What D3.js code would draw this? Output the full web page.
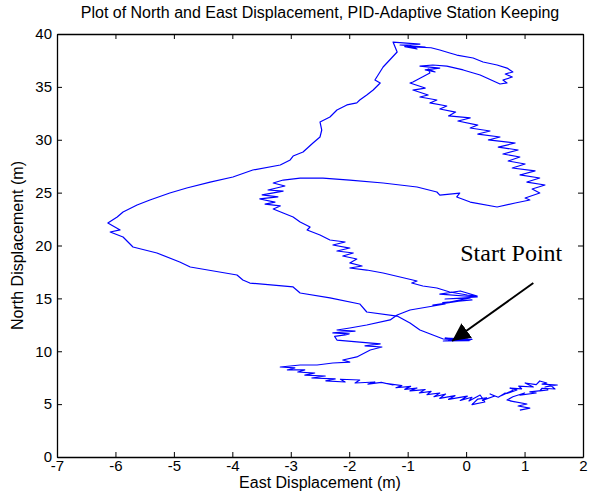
<!DOCTYPE html>
<html>
<head>
<meta charset="utf-8">
<script src="https://cdnjs.cloudflare.com/ajax/libs/d3/7.8.5/d3.min.js"></script>
<style>
  body { margin: 0; background: #fff; }
</style>
</head>
<body>
<div id="chart"></div>
<script>
// trajectory, [east (m), north (m)], in the order it was sailed
var startLeg = [
  [-0.19,11.16],[0.07,11.06],[-0.36,11.25],[0.03,11.16],[-0.39,10.97],[0.05,11.00],[-0.30,11.10],
  [0.10,11.12],[-0.10,11.06],[-0.39,11.16],
  [-0.79,12.01],[-0.96,12.67],[-1.18,13.33],[-1.70,13.71],[-1.82,14.47],[-2.33,15.04],[-2.84,15.51],
  [-2.96,16.08],[-3.70,16.45],[-3.82,16.74],[-3.92,17.21],[-4.72,17.97],[-4.90,18.44],[-5.29,19.29],
  [-5.70,19.86],[-5.87,20.80],[-6.09,21.28],[-5.92,21.47],[-6.13,22.13],[-5.97,22.70],[-5.87,23.17],
  [-5.63,23.83],[-5.41,24.30],[-5.07,24.96],[-4.78,25.44],[-4.38,26.00],[-3.99,26.48],[-3.65,27.14],
  [-3.18,27.61],[-3.01,28.09],[-2.96,28.46],[-2.79,28.84],[-2.62,29.69],[-2.50,30.26],[-2.47,30.92],
  [-2.50,31.68],[-2.33,32.15],[-2.21,32.81],[-2.04,33.29],[-1.87,33.48],[-1.82,33.76],[-1.70,34.23],
  [-1.59,34.70],[-1.47,35.37],[-1.56,35.65],[-1.42,36.88],[-1.18,38.30],[-1.25,39.24]
];

var topLobe = [
  [-0.79,39.05],[-1.13,38.96],[-0.70,38.77],[-0.96,38.87],[-0.84,38.58],[-1.05,38.80],[-0.60,38.70],
  [-0.45,38.49],[-0.28,38.20],[-0.16,38.01],[0.12,37.73],[0.29,37.35],[0.53,37.07],[0.70,36.78],
  [0.80,36.41],[0.67,36.22],[0.79,35.93],[0.63,35.65],[0.70,35.37],[0.58,35.27],[0.24,36.12],
  [-0.05,36.60],[-0.33,36.97],[-0.57,37.07],[-0.79,36.97],[-0.45,36.78],[-0.70,36.60],[-0.53,36.41],
  [-0.65,36.69],[-0.62,36.31],[-0.91,35.46],[-0.96,35.37]
];

var eastSide = [
  [-0.70,34.89],[-0.91,34.70],[-0.65,34.23],[-0.79,34.04],[-0.50,33.76],[-0.62,33.48],[-0.33,33.19],
  [-0.45,32.91],[-0.18,32.62],[-0.30,32.25],[0.07,32.06],[-0.14,31.77],[0.20,31.39],[0.07,31.11],
  [0.41,30.83],[0.20,30.54],[0.58,30.26],[0.38,29.98],[0.84,29.69],[0.55,29.31],[0.89,29.03],
  [0.63,28.65],[0.92,28.37],[0.72,27.99],[1.01,27.71],[0.79,27.33],[1.18,27.05],[0.92,26.67],
  [1.26,26.38],[1.04,26.00],[1.35,25.72],[1.13,25.34],[1.26,24.96],[1.01,24.49],[1.09,24.30],
  [0.84,24.02],[0.53,23.64]
];

var crossLeg = [
  [0.07,24.11],[-0.16,24.59],[-0.11,24.96],[-0.45,24.77],[-0.50,25.06],[-0.84,25.53],[-1.42,25.91],
  [-1.99,26.19],[-2.45,26.38],[-2.84,26.38],[-3.13,26.19],[-3.30,25.91]
];

var innerLeg = [
  [-3.10,25.63],[-3.39,25.25],[-3.13,25.15],[-3.49,24.78],[-3.22,24.59],[-3.53,24.40],[-3.27,24.11],
  [-3.44,23.92],[-3.18,23.74],[-3.30,23.45],[-3.13,23.07],[-2.96,22.70],[-2.84,22.22],[-2.67,21.75],
  [-2.72,21.47],[-2.50,20.99],[-2.33,20.52],[-2.07,20.33],[-2.28,20.05],[-1.99,19.76],[-2.21,19.48],
  [-1.93,19.29],[-2.11,19.01],[-1.87,18.72],[-1.99,18.35],[-1.78,18.06],[-1.99,17.87],[-1.70,17.68],
  [-1.42,17.40],[-1.13,17.02],[-0.84,16.64],[-0.93,16.45],[-0.74,16.17],[-0.50,15.98],[-0.28,15.60],
  [0.02,15.32],[0.19,15.22]
];

var returnLeg = [
  [-0.10,15.70],[-0.45,15.41],[0.19,15.13],[-0.36,14.94],[0.07,15.04],[-0.28,14.66],[0.10,14.85],
  [-0.40,14.60],[-0.10,14.75],[-0.57,14.37],[-0.36,14.47],[-0.96,13.90],[-1.18,13.43],[-1.30,12.96],
  [-1.70,12.48],[-1.99,12.20],[-2.21,12.01],[-1.90,11.91],[-2.28,11.73],[-2.00,11.65],[-2.07,11.54],
  [-2.25,11.40],[-2.21,11.06],[-1.82,10.87],[-1.47,10.69],[-1.73,10.50],[-1.44,10.40],[-1.64,10.12]
];

var southLeg = [
  [-1.87,9.46],[-2.11,9.17],[-1.99,8.98],[-2.28,8.89],[-2.55,8.70],[-2.84,8.70],[-3.18,8.51],
  [-2.93,8.42],[-3.06,8.23],[-2.76,8.23],[-2.88,8.04],[-2.59,7.94],[-2.76,7.75],[-2.41,7.66],
  [-2.64,7.47],[-2.24,7.38],[-2.40,7.20],[-2.07,7.09],[-2.15,7.35],[-1.82,7.28],[-1.90,7.00],
  [-1.56,7.09],[-1.68,6.90],[-1.45,7.05],[-1.25,6.81],[-1.35,6.95],[-1.10,6.75],[-1.20,6.55],
  [-0.95,6.68],[-1.05,6.40],[-0.84,6.52],[-0.96,6.25],[-0.70,6.38],[-0.80,6.05],[-0.60,6.20],
  [-0.67,5.90],[-0.45,6.05],[-0.55,5.70],[-0.35,5.95],[-0.45,5.55],[-0.19,5.80],[-0.30,5.45],
  [0.02,5.75],[-0.10,5.35],[0.10,5.65],[0.05,5.30],[0.24,5.86],[0.32,5.20],[0.10,4.95],
  [0.20,5.48],[0.35,5.60],[0.28,5.35],[0.49,5.77],[0.41,5.96],[0.55,5.65],[0.67,6.05],
  [0.60,5.80],[0.80,6.30],[0.70,6.00],[0.87,6.34],[0.75,6.52],[0.95,6.45],[0.90,6.70],
  [1.15,6.62],[1.01,7.00],[1.20,6.85],[1.26,7.19],[1.38,7.00],[1.30,6.90],[1.56,6.81],
  [1.35,6.62],[1.45,6.75],[1.52,6.43],[1.30,6.50],[1.26,6.24],[1.40,6.35],[1.09,6.15],
  [1.20,6.05],[0.92,5.86],[1.00,6.05],[0.80,5.70],[0.70,5.39],[0.84,5.20],[0.75,5.30],
  [1.04,5.01],[0.89,4.82],[1.09,4.63],[0.92,4.44]
];

var xTicks = [-7, -6, -5, -4, -3, -2, -1, 0, 1, 2];
var yTicks = [0, 5, 10, 15, 20, 25, 30, 35, 40];

var title = "Plot of North and East Displacement, PID-Adaptive Station Keeping";
var xTitle = "East Displacement (m)";
var yTitle = "North Displacement (m)";
var noteText = "Start Point";
var noteAt = [-0.1, 18.5];
var arrowFrom = [1.15, 16.45];
var arrowTo = [-0.24, 10.97];

var sans = "Arial, 'Liberation Sans', Helvetica, sans-serif";
var serif = "'Times New Roman', 'Liberation Serif', Times, serif";

var svgWidth = 590;
var svgHeight = 492;
var margin = { top: 34, right: 7, bottom: 35, left: 57 };
var width = svgWidth - margin.left - margin.right;
var height = svgHeight - margin.top - margin.bottom;

var track = startLeg.concat(topLobe, eastSide, crossLeg, innerLeg, returnLeg, southLeg);

var svg = d3.select("#chart")
  .append("svg")
  .attr("width", svgWidth)
  .attr("height", svgHeight);

svg.append("rect").attr("width", svgWidth).attr("height", svgHeight).attr("fill", "#fff");

var chartGroup = svg.append("g")
  .attr("transform", `translate(${margin.left}, ${margin.top})`);

var x = d3.scaleLinear().domain([-7, 2]).range([0, width]);
var y = d3.scaleLinear().domain([0, 40]).range([height, 0]);

// box with inward ticks on all four sides, like matlab
chartGroup.append("g")
  .attr("class", "xAxis")
  .attr("transform", "translate(0," + height + ")")
  .call(d3.axisBottom(x).tickValues(xTicks).tickSizeInner(-5).tickSizeOuter(0).tickPadding(3)
    .tickFormat(d => String(d)));

chartGroup.append("g")
  .call(d3.axisTop(x).tickValues(xTicks).tickSizeInner(-5).tickSizeOuter(0).tickFormat(""));

chartGroup.append("g")
  .attr("class", "yAxis")
  .call(d3.axisLeft(y).tickValues(yTicks).tickSizeInner(-5).tickSizeOuter(0).tickPadding(5)
    .tickFormat(d => String(d)));

chartGroup.append("g")
  .attr("transform", "translate(" + width + ",0)")
  .call(d3.axisRight(y).tickValues(yTicks).tickSizeInner(-5).tickSizeOuter(0).tickFormat(""));

chartGroup.selectAll(".domain").attr("stroke", "#000").attr("stroke-width", 1.3);
chartGroup.selectAll(".tick line").attr("stroke", "#000");
chartGroup.selectAll(".tick text")
  .style("font-family", sans)
  .style("font-size", "15px")
  .attr("fill", "#000");

var line = d3.line()
  .x(d => x(d[0]))
  .y(d => y(d[1]));

chartGroup.append("path")
  .datum(track)
  .attr("d", line)
  .attr("fill", "none")
  .attr("stroke", "#0000ff")
  .attr("stroke-width", 1.2)
  .attr("stroke-linejoin", "round");

// arrow pointing at the start
svg.append("defs").append("marker")
  .attr("id", "head")
  .attr("viewBox", "0 0 18 18")
  .attr("refX", 18)
  .attr("refY", 9)
  .attr("markerWidth", 18)
  .attr("markerHeight", 18)
  .attr("markerUnits", "userSpaceOnUse")
  .attr("orient", "auto")
  .append("path")
  .attr("d", "M0,0 L18,9 L0,18 Z")
  .attr("fill", "#000");

chartGroup.append("line")
  .attr("x1", x(arrowFrom[0]))
  .attr("y1", y(arrowFrom[1]))
  .attr("x2", x(arrowTo[0]))
  .attr("y2", y(arrowTo[1]))
  .attr("stroke", "#000")
  .attr("stroke-width", 2)
  .attr("marker-end", "url(#head)");

chartGroup.append("text")
  .attr("x", x(noteAt[0]))
  .attr("y", y(noteAt[1]))
  .style("font-family", serif)
  .style("font-size", "24px")
  .attr("fill", "#000")
  .text(noteText);

svg.append("text")
  .attr("x", margin.left + width / 2)
  .attr("y", 18)
  .attr("text-anchor", "middle")
  .style("font-family", sans)
  .style("font-size", "16px")
  .text(title);

svg.append("text")
  .attr("x", margin.left + width / 2)
  .attr("y", 488)
  .attr("text-anchor", "middle")
  .style("font-family", sans)
  .style("font-size", "16px")
  .text(xTitle);

svg.append("text")
  .attr("transform", "rotate(-90)")
  .attr("x", -(margin.top + height / 2))
  .attr("y", 23)
  .attr("text-anchor", "middle")
  .style("font-family", sans)
  .style("font-size", "16px")
  .text(yTitle);
</script>
</body>
</html>
